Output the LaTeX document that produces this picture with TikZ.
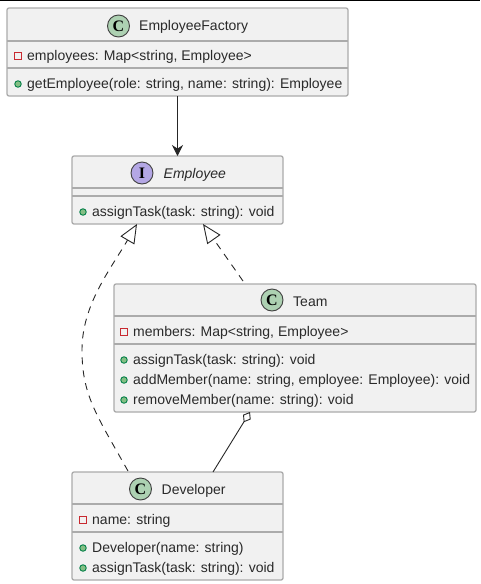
\documentclass[tikz,border=0pt]{standalone}
\usepackage{fontspec}
\setmainfont{Liberation Sans}
\newfontfamily\iconfont{Liberation Serif}
\usetikzlibrary{arrows.meta}
\definecolor{boxfill}{HTML}{F1F1F1}
\definecolor{boxline}{HTML}{ABABAB}
\definecolor{txtcol}{HTML}{2A2A2A}
\definecolor{classc}{HTML}{ADD1B2}
\definecolor{ifacec}{HTML}{B4A7E5}
\definecolor{privc}{HTML}{C82930}
\definecolor{pubc}{HTML}{84BE84}
\definecolor{pubd}{HTML}{038048}
\tikzset{
  classbox/.style={draw=boxline,fill=boxfill,line width=1.3pt,rounded corners=2pt,
    inner sep=0pt,outer sep=0pt,minimum width=#1},
  sepline/.style={draw=boxline,line width=1.3pt},
  txt/.style={text=txtcol,inner sep=0pt,font=\fontsize{14}{16}\selectfont,
    text height=10pt,text depth=3pt,yshift=-1.2pt},
  member/.style={txt,anchor=west},
  icon/.style={circle,draw=black!75,line width=0.9pt,fill=#1,minimum size=22pt,inner sep=0pt,
    text=black,font=\fontsize{16}{16}\iconfont\bfseries},
  private/.style={draw=privc,fill=none,line width=1pt,minimum size=6.5pt,inner sep=0pt},
  public/.style={circle,draw=pubd,fill=pubc,line width=0.9pt,minimum size=6.5pt,inner sep=0pt},
  link/.style={draw=black!85,line width=0.9pt},
  realize/.style={link,dash pattern=on 7pt off 6pt,-{Triangle[open,length=19pt,width=16pt]}},
}
\begin{document}
\begin{tikzpicture}[x=1pt,y=-1pt]
\useasboundingbox (0,0) rectangle (480,584);
\coordinate (topl) at (0,0);
\coordinate (topr) at (480,0);
\draw[black,line width=2pt] (topl) -- (topr);
% class boxes
\node[classbox=341pt,minimum height=88pt] (factory) at (177.5,52) {};
\node[classbox=211pt,minimum height=68pt] (employee) at (177.5,190) {};
\node[classbox=362pt,minimum height=128pt] (team) at (295,348) {};
\node[classbox=211pt,minimum height=108pt] (developer) at (177.5,526) {};
\foreach \cl/\y in {factory/41,factory/68,employee/188,employee/196,team/316,team/344,developer/504,developer/532}
  \draw[sepline] (\cl.west |- 0,\y) -- (\cl.east |- 0,\y);
% headers
\node[icon=classc] (factoryc) at (118.5,26) {C};
\node[txt,anchor=west] (factoryt) at (139,26) {EmployeeFactory};
\node[icon=ifacec] (employeec) at (142,173) {I};
\node[txt,anchor=west,font=\fontsize{14}{16}\selectfont\itshape] (employeet) at (163.5,174) {Employee};
\node[icon=classc] (teamc) at (272,300) {C};
\node[txt,anchor=west] (teamt) at (293,302) {Team};
\node[icon=classc] (developerc) at (140.5,489) {C};
\node[txt,anchor=west] (developert) at (161.5,490) {Developer};
% members
\foreach \i/\k/\x/\y/\t in {
  a/private/18/56/{employees: Map<string, Employee>},
  b/public/18/84/{getEmployee(role: string, name: string): Employee},
  c/public/83/212/{assignTask(task: string): void},
  d/private/124/332/{members: Map<string, Employee>},
  e/public/124/360/{assignTask(task: string): void},
  f/public/124/380/{addMember(name: string, employee: Employee): void},
  g/public/124/400/{removeMember(name: string): void},
  h/private/83/520/{name: string},
  i/public/83/548/{Developer(name: string)},
  j/public/83/568/{assignTask(task: string): void}}
{
  \node[\k] (mark\i) at (\x,\y) {};
  \node[member] (mem\i) at (\x+9,\y) {\t};
}
% relations
\draw[link,-{Stealth[length=11pt,width=11pt]}] (factory.south) -- (employee.north);
\draw[realize] ([xshift=-49.5pt,yshift=1pt]developer.north) .. controls (96,414) and (82,395) .. (82,350)
  .. controls (82,305) and (110,270) .. ([xshift=-40.5pt]employee.south);
\draw[realize] ([xshift=-52pt,yshift=3pt]team.north) -- ([xshift=25.5pt]employee.south);
\draw[link,{Diamond[open,length=12pt,width=9pt]}-] ([xshift=-45pt]team.south) -- ([xshift=35.5pt]developer.north);
\end{tikzpicture}
\end{document}
